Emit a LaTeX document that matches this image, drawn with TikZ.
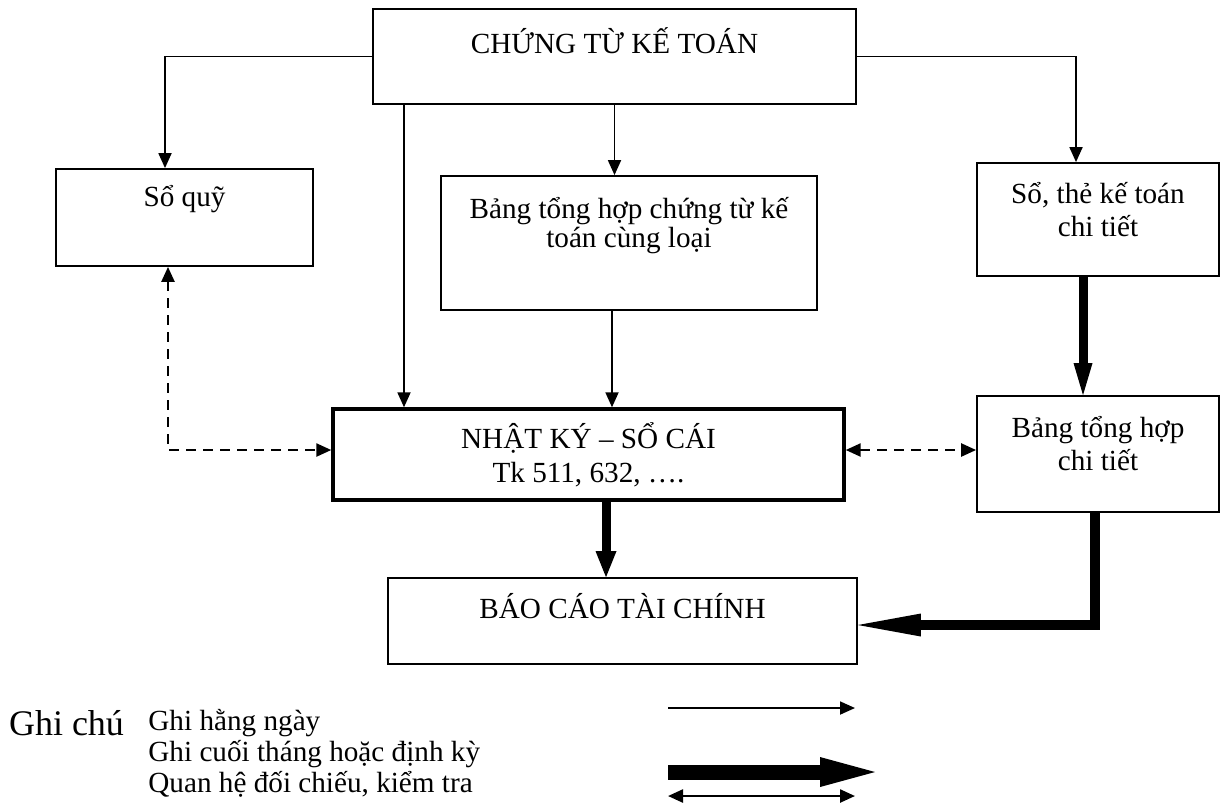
\documentclass[tikz,border=0pt]{standalone}
\usepackage{fontspec}
\setmainfont{Liberation Serif}
\usetikzlibrary{arrows.meta,calc}

\begin{document}
\begin{tikzpicture}[x=0.5pt,y=-0.5pt,
    box/.style={draw,line width=0.9pt,inner sep=0pt},
    txt/.style={font=\fontsize{14.6pt}{16.5pt}\selectfont,align=center,inner sep=0pt},
    hangngay/.style={line width=0.9pt,-{Triangle[length=7.5pt,width=6.5pt]}},
    dinhky/.style={line width=4.5pt,-{Triangle[length=15pt,width=10pt,line width=0pt]}},
    doichieu/.style={line width=1.2pt,dash pattern=on 5pt off 3.5pt,
        {Triangle[length=7.5pt,width=6.5pt]}-{Triangle[length=7.5pt,width=6.5pt]}}]
    \useasboundingbox (0,0) rectangle (1224,805);

    \node[box,minimum width=241.5pt,minimum height=47.5pt] (ctkt) at (614.5,56.5) {};
    \node[box,minimum width=128.5pt,minimum height=48.5pt] (soquy) at (184.5,217.5) {};
    \node[box,minimum width=188pt,minimum height=67pt] (bangct) at (629,243) {};
    \node[box,minimum width=121pt,minimum height=56.5pt] (sotct) at (1098,219.5) {};
    \node[box,line width=1.7pt,minimum width=255.5pt,minimum height=45.5pt] (nkst) at (588.5,454.5) {};
    \node[box,minimum width=121pt,minimum height=58pt] (bthct) at (1098,454) {};
    \node[box,minimum width=234.5pt,minimum height=43pt] (bctc) at (622.5,621) {};

    \node[txt] (ctkt-t) at (614.5,41) {CHỨNG TỪ KẾ TOÁN};
    \node[txt] (soquy-t) at (184.5,199) {Sổ quỹ};
    \node[txt,font=\fontsize{14.6pt}{14.5pt}\selectfont] (bangct-t) at (629,226) {Bảng tổng hợp chứng từ kế\\toán cùng loại};
    \node[txt] (sotct-t) at (1098,209.5) {Sổ, thẻ kế toán\\chi tiết};
    \node[txt,font=\fontsize{14.6pt}{17pt}\selectfont] (nkst-t) at (588.5,455) {NHẬT KÝ -- SỔ CÁI\\Tk 511, 632, ….};
    \node[txt] (bthct-t) at (1098,443.5) {Bảng tổng hợp\\chi tiết};
    \node[txt] (bctc-t) at (622.5,606) {BÁO CÁO TÀI CHÍNH};

    \draw[hangngay] (ctkt.west) -| ($(soquy.north)+(-19.5,0)$);
    \draw[hangngay] (ctkt.east) -| ($(sotct.north)+(-22,0)$);
    \draw[hangngay] ($(ctkt.south)+(-210.5,0)$) coordinate (c1) -- (c1 |- nkst.north);
    \draw[hangngay] (ctkt.south) -- (ctkt.south |- bangct.north);
    \draw[hangngay] ($(bangct.south)+(-17,0)$) coordinate (c2) -- (c2 |- nkst.north);

    \draw[dinhky,-{Triangle[length=13pt,width=10.5pt,line width=0pt]}] ($(nkst.south)+(17.5,0)$) coordinate (c3) -- (c3 |- bctc.north);
    \draw[dinhky,-{Triangle[length=16pt,width=9.5pt,line width=0pt]}] ($(sotct.south)+(-15,0)$) coordinate (c4) -- (c4 |- bthct.north);
    \draw[dinhky,line width=5pt,-{Triangle[length=31.5pt,width=11.5pt,line width=0pt]}] ($(bthct.south)+(-3,0)$) |- ($(bctc.east)+(0,4)$);

    \draw[doichieu] ($(soquy.south)+(-16.5,0)$) |- ($(nkst.west)+(0,-4.5)$);
    \draw[doichieu] ($(nkst.east)+(0,-4.5)$) -- ($(bthct.west)+(0,-4)$);

    \node[inner sep=0pt,font=\fontsize{18pt}{20pt}\selectfont] (ghichu) at (66.5,723) {Ghi chú};
    \node[txt,anchor=west,align=left,font=\fontsize{14.6pt}{15.5pt}\selectfont] (chuthich) at (148,753)
        {Ghi hằng ngày\\Ghi cuối tháng hoặc định kỳ\\Quan hệ đối chiếu, kiểm tra};

    \coordinate (l1) at (668,708);
    \coordinate (l2) at (855,708);
    \coordinate (l3) at (668,772);
    \coordinate (l4) at (875,772);
    \coordinate (l5) at (668,796);
    \coordinate (l6) at (855,796);
    \draw[hangngay] (l1) -- (l2);
    \draw[line width=7.5pt,-{Triangle[length=27.5pt,width=15pt,line width=0pt]}] (l3) -- (l4);
    \draw[line width=1.2pt,{Triangle[length=7.5pt,width=6.5pt]}-{Triangle[length=7.5pt,width=6.5pt]}] (l5) -- (l6);
\end{tikzpicture}
\end{document}
